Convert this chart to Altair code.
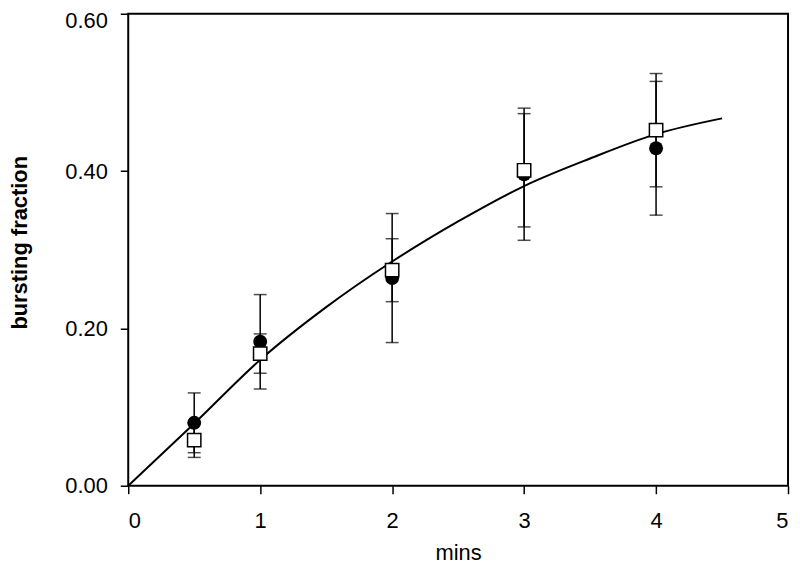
import altair as alt
import pandas as pd

# measured data
x_pts = [0.5, 1, 2, 3, 4]
circle_y = [0.080, 0.183, 0.264, 0.396, 0.429]
circle_err = [0.038, 0.060, 0.082, 0.084, 0.085]
square_y = [0.058, 0.168, 0.274, 0.401, 0.452]
square_err = [0.022, 0.025, 0.040, 0.072, 0.072]

curve_x = [0, 0.5, 1.0, 1.5, 2.0, 2.5, 3.0, 3.5, 4.0, 4.5]
curve_y = [0, 0.079, 0.160, 0.227, 0.285, 0.336, 0.381, 0.416, 0.447, 0.467]

x_ticks = [0, 1, 2, 3, 4, 5]
y_ticks = [0.0, 0.2, 0.4, 0.6]

pts = pd.DataFrame({
    "x": x_pts * 2,
    "y": circle_y + square_y,
    "err": circle_err + square_err,
    "series": ["circle"] * 5 + ["square"] * 5,
})
pts["lo"] = pts["y"] - pts["err"]
pts["hi"] = pts["y"] + pts["err"]
caps = pd.DataFrame({
    "x": list(pts["x"]) * 2,
    "cap": list(pts["lo"]) + list(pts["hi"]),
})
curve = pd.DataFrame({"x": curve_x, "y": curve_y})

FONT = "Liberation Sans"

xs = alt.Scale(domain=[0, 5], nice=False, zero=False)
ys = alt.Scale(domain=[0, 0.6], nice=False, zero=False)

xaxis = alt.Axis(values=x_ticks, format="d", title="mins", labelFontSize=22,
                 labelFont=FONT, labelColor="black", titleFont=FONT, titleFontSize=22,
                 titleFontWeight="normal", titleColor="black", tickSize=8, tickWidth=1.5,
                 tickColor="black", labelPadding=27, labelBaseline="middle",
                 titleBaseline="middle", titleY=67, domain=False, grid=False)
yaxis = alt.Axis(values=y_ticks, format=".2f", title="bursting fraction", labelFontSize=22,
                 labelFont=FONT, labelColor="black", titleFont=FONT, titleFontSize=22,
                 titleFontWeight="bold", titleColor="black", tickSize=8, tickWidth=1.5,
                 tickColor="black", labelPadding=13,
                 labelOffset={"condition": {"test": "datum.value >= 0.59", "value": 7}, "value": 0},
                 titleAngle=-90, titleAlign="center",
                 titleBaseline="middle", titleX=-109, titleY=230, domain=False, grid=False)

line = alt.Chart(curve).mark_line(color="black", strokeWidth=2, interpolate="monotone").encode(
    x=alt.X("x:Q", scale=xs, axis=xaxis),
    y=alt.Y("y:Q", scale=ys, axis=yaxis),
)
bars = alt.Chart(pts).mark_rule(color="black", strokeWidth=1.5).encode(
    x="x:Q", y="lo:Q", y2="hi:Q"
)
capmarks = alt.Chart(caps).mark_tick(color="black", thickness=1.5, size=13, orient="horizontal").encode(
    x="x:Q", y="cap:Q"
)
circles = alt.Chart(pts).transform_filter(alt.datum.series == "circle").mark_point(
    shape="circle", filled=True, color="black", size=196, opacity=1
).encode(x="x:Q", y="y:Q")
squares = alt.Chart(pts).transform_filter(alt.datum.series == "square").mark_point(
    shape="square", filled=False, fill="white", fillOpacity=1, stroke="black", strokeWidth=1.5, size=180, opacity=1
).encode(x="x:Q", y="y:Q")

chart = alt.layer(line, bars, capmarks, circles, squares).properties(
    width=664, height=475,
    autosize=alt.AutoSizeParams(type="none"),
    padding={"left": 121, "top": 4, "right": 4, "bottom": 80},
    background="white",
).configure_view(stroke="black", strokeWidth=2)

chart.save("out.html", embed_options={"renderer": "svg", "actions": False})
